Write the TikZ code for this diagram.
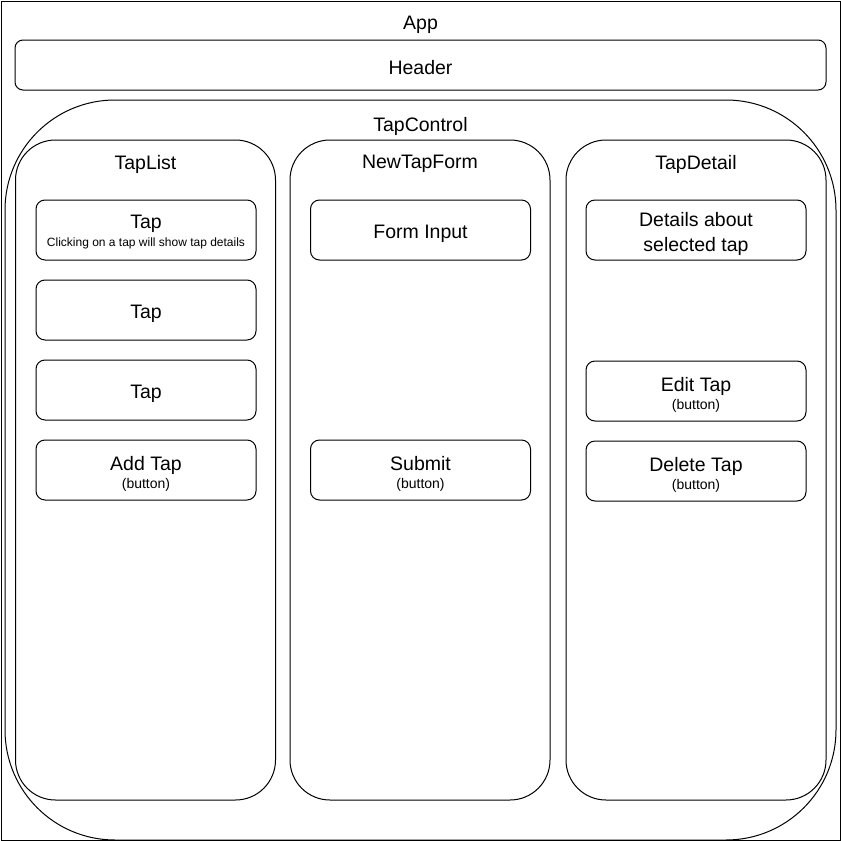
\documentclass[tikz,border=0pt]{standalone}
\usepackage{fontspec}
\setmainfont{Liberation Sans}
\usetikzlibrary{positioning}
\newcommand{\bigtxt}{\fontsize{19.5}{24}\selectfont}
\newcommand{\smalltxt}{\fontsize{14}{16}\selectfont}
\newcommand{\tinytxt}{\fontsize{12}{14}\selectfont}
\newcommand{\toppad}[1]{\rule{0pt}{#1}}
\tikzset{%
	appframe/.style = {draw, rectangle, line width=1pt, minimum width=839pt, minimum height=839pt}, % App
	title/.style    = {font=\bigtxt, inner sep=0pt}, % Titles
	bar/.style      = {draw, rectangle, rounded corners=8pt, line width=1pt, minimum width=811pt, minimum height=50pt, font=\bigtxt, execute at begin node={\toppad{19pt}}}, % Header
	ctrlbox/.style  = {draw, rectangle, rounded corners=110pt, line width=1pt, minimum width=831pt, minimum height=740pt}, % TapControl
	panel/.style    = {draw, rectangle, rounded corners=40pt, line width=1pt, minimum width=260pt, minimum height=660pt}, % Columns
	itembox/.style  = {draw, rectangle, rounded corners=9pt, line width=1pt, minimum width=220pt, minimum height=60pt, align=center, font=\bigtxt}, % Boxes
}
\begin{document}
\begin{tikzpicture}[x=1pt,y=-1pt]
	\useasboundingbox (0,0) rectangle (841,841);
	\node [appframe] (app) at (420.5,420.5) {};
	\node [title] (applbl) at (420.5,25) {App};
	\node [bar] (header) at (420.5,65) {Header};
	\node [ctrlbox] (tapctrl) at (420.5,470) {};
	\node [title] (tapctrllbl) at (420.5,126) {TapControl};
	
	\node [panel] (taplist) at (145.5,470) {};
	\node [panel] (newtapform) at (420,470) {};
	\node [panel] (tapdetail) at (696,470) {};
	\node [title] (taplistlbl) at (145.5,164) {TapList};
	\node [title] (newtapformlbl) at (420,164) {NewTapForm};
	\node [title] (tapdetaillbl) at (696,164) {TapDetail};
	
	% TapList
	\node [itembox] (tap1) at (146,230) {\toppad{18pt}Tap\\[-6pt]{\tinytxt Clicking on a tap will show tap details}};
	\node [itembox, below=19pt of tap1] (tap2) {\toppad{21pt}Tap};
	\node [itembox, below=19pt of tap2] (tap3) {\toppad{21pt}Tap};
	\node [itembox, below=19pt of tap3] (addtap) {\toppad{22pt}Add Tap\\[-6pt]{\smalltxt (button)}};
	
	% NewTapForm
	\node [itembox] (forminput) at (420.5,230) {\toppad{21pt}Form Input};
	\node [itembox] (submit) at (420.5,470) {\toppad{22pt}Submit\\[-6pt]{\smalltxt (button)}};
	
	% TapDetail
	\node [itembox] (details) at (696,230) {\toppad{22pt}Details about\\[1pt]selected tap};
	\node [itembox] (edittap) at (696,391) {\toppad{22pt}Edit Tap\\[-6pt]{\smalltxt (button)}};
	\node [itembox, below=19pt of edittap] (deletetap) {\toppad{22pt}Delete Tap\\[-6pt]{\smalltxt (button)}};
\end{tikzpicture}
\end{document}
